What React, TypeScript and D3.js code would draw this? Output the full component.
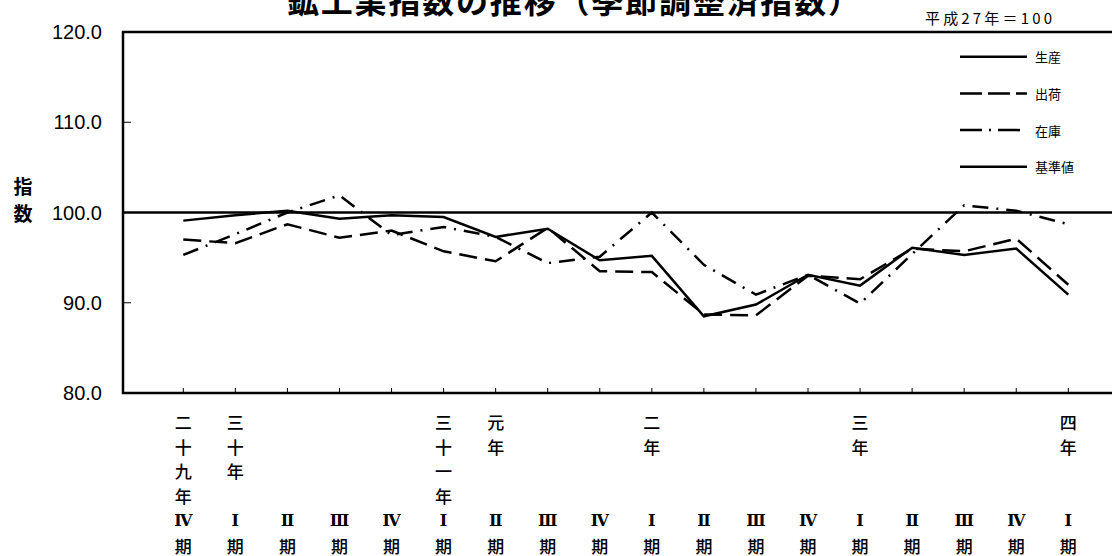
import React, { useEffect, useRef } from 'react'
import * as d3 from 'd3'

const periods = ['H29Q4', 'H30Q1', 'H30Q2', 'H30Q3', 'H30Q4', 'H31Q1', 'R1Q2', 'R1Q3', 'R1Q4', 'R2Q1', 'R2Q2', 'R2Q3', 'R2Q4', 'R3Q1', 'R3Q2', 'R3Q3', 'R3Q4', 'R4Q1']
const yearLabels = ['二十九年', '三十年', '', '', '', '三十一年', '元年', '', '', '二年', '', '', '', '三年', '', '', '', '四年']
const quarterLabels = ['Ⅳ', 'Ⅰ', 'Ⅱ', 'Ⅲ', 'Ⅳ', 'Ⅰ', 'Ⅱ', 'Ⅲ', 'Ⅳ', 'Ⅰ', 'Ⅱ', 'Ⅲ', 'Ⅳ', 'Ⅰ', 'Ⅱ', 'Ⅲ', 'Ⅳ', 'Ⅰ']

const production = [99.1, 99.7, 100.2, 99.3, 99.7, 99.5, 97.3, 98.2, 94.7, 95.2, 88.5, 89.8, 93.1, 91.9, 96.1, 95.3, 96.0, 90.9]
const shipments = [97.0, 96.6, 98.7, 97.2, 98.0, 95.7, 94.6, 98.3, 93.5, 93.4, 88.7, 88.6, 93.0, 92.6, 96.0, 95.7, 97.1, 92.0]
const inventory = [95.3, 97.6, 100.0, 101.9, 97.5, 98.4, 97.3, 94.4, 95.1, 100.0, 94.2, 90.9, 93.1, 89.9, 95.4, 100.8, 100.2, 98.7]
const baseValue = 100

const yTicks = [80, 90, 100, 110, 120]

const legendItems = [
  { name: '生産', dash: null },
  { name: '出荷', dash: '22,6' },
  { name: '在庫', dash: '22,7,2,7' },
  { name: '基準値', dash: null },
]

const JP = '"Noto Sans CJK JP", sans-serif'

export default function App() {
  const ref = useRef<SVGSVGElement | null>(null)

  useEffect(() => {
    const svg = d3.select(ref.current)
    svg.selectAll('*').remove()

    const left = 123
    const top = 32
    const bottom = 393
    const right = 1140

    const x = d3.scalePoint<string>().domain(periods).range([183.3, 1068.3])
    const y = d3.scaleLinear().domain([80, 120]).range([bottom, top])

    // title, cut at the top as in the original
    svg.append('text')
      .attr('x', 287).attr('y', 13)
      .attr('textLength', 573).attr('lengthAdjust', 'spacing')
      .style('font-family', JP).style('font-size', '32px').style('font-weight', 'bold')
      .text('鉱工業指数の推移（季節調整済指数）')

    svg.append('text')
      .attr('x', 925).attr('y', 24)
      .attr('textLength', 127).attr('lengthAdjust', 'spacing')
      .style('font-family', JP).style('font-size', '15px')
      .text('平成27年＝100')

    // frame
    svg.append('path')
      .attr('d', `M${right},${top}H${left}V${bottom}H${right}`)
      .attr('fill', 'none').attr('stroke', '#000').attr('stroke-width', 2.5)

    // y ticks and labels
    svg.append('g').selectAll('line')
      .data(yTicks.slice(1, -1))
      .enter().append('line')
      .attr('x1', left).attr('x2', left + 8)
      .attr('y1', d => y(d)).attr('y2', d => y(d))
      .attr('stroke', '#000').attr('stroke-width', 1)

    svg.append('g').selectAll('text')
      .data(yTicks)
      .enter().append('text')
      .attr('x', 102).attr('y', d => y(d))
      .attr('text-anchor', 'end').attr('dominant-baseline', 'central')
      .style('font-family', '"Liberation Sans", Arial, sans-serif').style('font-size', '20px')
      .text(d => d.toFixed(1))

    svg.append('g').selectAll('text')
      .data(['指', '数'])
      .enter().append('text')
      .attr('x', 23).attr('y', (d, i) => 185 + i * 27)
      .attr('text-anchor', 'middle').attr('dominant-baseline', 'central')
      .style('font-family', JP).style('font-size', '19px').style('font-weight', 'bold')
      .text(d => d)

    // x ticks
    svg.append('g').selectAll('line')
      .data(periods)
      .enter().append('line')
      .attr('x1', d => x(d)!).attr('x2', d => x(d)!)
      .attr('y1', bottom).attr('y2', bottom - 5)
      .attr('stroke', '#000').attr('stroke-width', 1)

    // x labels, written vertically
    const rowY = (r: number) => 421.5 + r * 24.7
    const xl = svg.append('g')
      .style('font-family', JP).style('font-size', '17px').style('font-weight', 500)
    periods.forEach((p, i) => {
      Array.from(yearLabels[i]).forEach((c, r) => {
        xl.append('text').attr('x', x(p)!).attr('y', rowY(r))
          .attr('text-anchor', 'middle').attr('dominant-baseline', 'central').text(c)
      })
      xl.append('text').attr('x', x(p)!).attr('y', rowY(4))
        .attr('text-anchor', 'middle').attr('dominant-baseline', 'central')
        .style('font-family', '"DejaVu Serif", serif').style('font-size', '16px').style('font-weight', 'bold')
        .text(quarterLabels[i])
      xl.append('text').attr('x', x(p)!).attr('y', rowY(5))
        .attr('text-anchor', 'middle').attr('dominant-baseline', 'central').text('期')
    })

    // base line at 100
    svg.append('line')
      .attr('x1', left).attr('x2', right)
      .attr('y1', y(baseValue)).attr('y2', y(baseValue))
      .attr('stroke', '#000').attr('stroke-width', 2.5)

    const line = d3.line<number>()
      .x((d, i) => x(periods[i])!)
      .y(d => y(d))

    const series = [
      { values: inventory, dash: '16,8,2,8' },
      { values: shipments, dash: '18,8' },
      { values: production, dash: null },
    ]
    series.forEach(s => {
      svg.append('path')
        .datum(s.values)
        .attr('d', line)
        .attr('fill', 'none').attr('stroke', '#000').attr('stroke-width', 2.5)
        .attr('stroke-dasharray', s.dash)
    })

    // legend
    const lg = svg.append('g')
    legendItems.forEach((item, i) => {
      const ly = 56.7 + i * 36.7
      lg.append('line')
        .attr('x1', 960).attr('x2', 1027).attr('y1', ly).attr('y2', ly)
        .attr('stroke', '#000').attr('stroke-width', 2.5)
        .attr('stroke-dasharray', item.dash)
      lg.append('text')
        .attr('x', 1035).attr('y', ly)
        .attr('dominant-baseline', 'central')
        .style('font-family', JP).style('font-size', '13px')
        .text(item.name)
    })
  }, [])

  return (
    <svg ref={ref} width={1112} height={556}
      style={{ position: 'absolute', left: 0, top: 0, background: '#fff' }} />
  )
}
